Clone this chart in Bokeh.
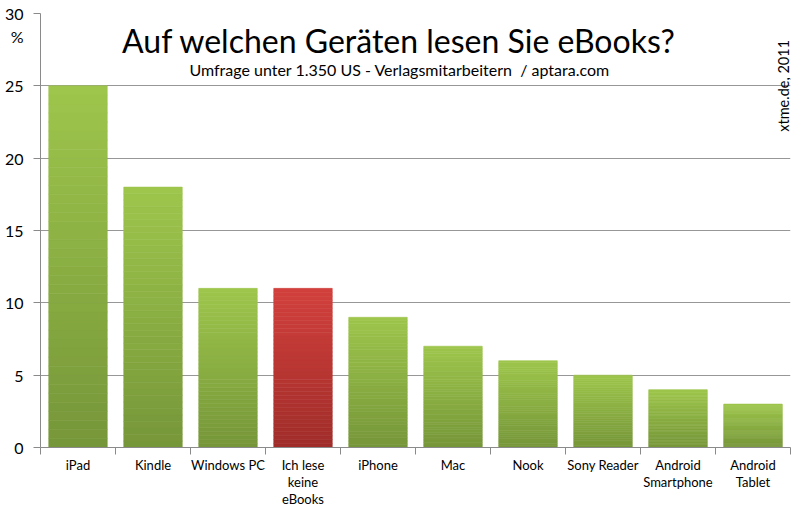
from bokeh.plotting import figure
from bokeh.models import Range1d, FixedTicker, Label
from bokeh.embed import file_html
from bokeh.resources import INLINE
import math

# ---- data ----
categories = ["iPad", "Kindle", "Windows PC", "Ich lese\nkeine\neBooks", "iPhone",
              "Mac", "Nook", "Sony Reader", "Android\nSmartphone", "Android\nTablet"]
values = [25, 18, 11, 11, 9, 7, 6, 5, 4, 3]
highlight = [False, False, False, True, False, False, False, False, False, False]
y_ticks = [0, 5, 10, 15, 20, 25, 30]
unit_label = "%"
unit_label_pos = 28.4

title_text = "Auf welchen Geräten lesen Sie eBooks?"
subtitle_text = "Umfrage unter 1.350 US - Verlagsmitarbeitern\u00a0 / aptara.com"
credit_text = "xtme.de, 2011"

FONT = "Lato"

green_bottom = (0x76, 0x96, 0x39)
green_top = (0x9e, 0xc6, 0x4c)
red_bottom = (0xa0, 0x2d, 0x2a)
red_top = (0xd2, 0x40, 0x3c)


def mix(c0, c1, t):
    return "#%02x%02x%02x" % tuple(int(round(a + (b - a) * t)) for a, b in zip(c0, c1))


p = figure(width=800, height=512, output_backend="svg", toolbar_location=None, tools="",
           x_range=Range1d(-0.5, len(categories) - 0.5), y_range=Range1d(0, 30),
           min_border_left=40, min_border_right=10, min_border_top=13, min_border_bottom=65)
p.outline_line_color = None
p.background_fill_color = "white"
p.border_fill_color = "white"

# gradient bars: each bar built from thin bands computed from its value
N = 40
xs, bottoms, tops, colors = [], [], [], []
for i, (v, h) in enumerate(zip(values, highlight)):
    c0, c1 = (red_bottom, red_top) if h else (green_bottom, green_top)
    for k in range(N):
        xs.append(i)
        bottoms.append(v * k / N)
        tops.append(v * (k + 1) / N)
        colors.append(mix(c0, c1, (k + 0.5) / N))
p.vbar(x=xs, bottom=bottoms, top=tops, width=0.78, fill_color=colors, line_color=colors, line_width=0.6)

# axes
grey = "#8a8a8a"
p.yaxis.ticker = FixedTicker(ticks=y_ticks + [unit_label_pos], minor_ticks=y_ticks)
p.yaxis.major_label_overrides = {unit_label_pos: unit_label}
p.yaxis.axis_line_color = grey
p.yaxis.major_tick_line_color = None
p.yaxis.major_tick_out = 7
p.yaxis.major_tick_in = 0
p.yaxis.minor_tick_line_color = grey
p.yaxis.minor_tick_out = 7
p.yaxis.minor_tick_in = 0
p.yaxis.major_label_standoff = 10
p.yaxis.major_label_text_font = FONT
p.yaxis.major_label_text_font_size = "16px"
p.yaxis.major_label_text_color = "black"

p.xaxis.ticker = FixedTicker(ticks=list(range(len(categories))),
                             minor_ticks=[i - 0.5 for i in range(len(categories) + 1)])
p.xaxis.major_label_overrides = {i: c for i, c in enumerate(categories)}
p.xaxis.axis_line_color = grey
p.xaxis.major_tick_line_color = None
p.xaxis.major_tick_out = 7
p.xaxis.major_tick_in = 0
p.xaxis.minor_tick_line_color = grey
p.xaxis.minor_tick_out = 7
p.xaxis.minor_tick_in = 0
p.xaxis.major_label_standoff = 2
p.xaxis.major_label_text_font = FONT
p.xaxis.major_label_text_font_size = "13px"
p.xaxis.major_label_text_color = "black"
p.xaxis.major_label_text_line_height = 1.08

p.xgrid.visible = False
p.ygrid.ticker = FixedTicker(ticks=y_ticks)
p.ygrid.grid_line_color = "#979797"
p.ygrid.grid_line_width = 1

# texts
p.add_layout(Label(x=4.28, y=28.1, text=title_text, text_font=FONT, text_font_size="32px",
                   text_align="center", text_baseline="alphabetic", text_color="black"))
p.add_layout(Label(x=4.29, y=26.15, text=subtitle_text, text_font=FONT, text_font_size="16px",
                   text_align="center", text_baseline="alphabetic", text_color="black"))
p.add_layout(Label(x=9.41, y=25.0, text=credit_text, text_font=FONT, text_font_size="14.5px",
                   text_align="center", text_baseline="middle", angle=math.pi / 2,
                   text_color="black"))

open("out.html", "w").write(file_html(p, INLINE))
